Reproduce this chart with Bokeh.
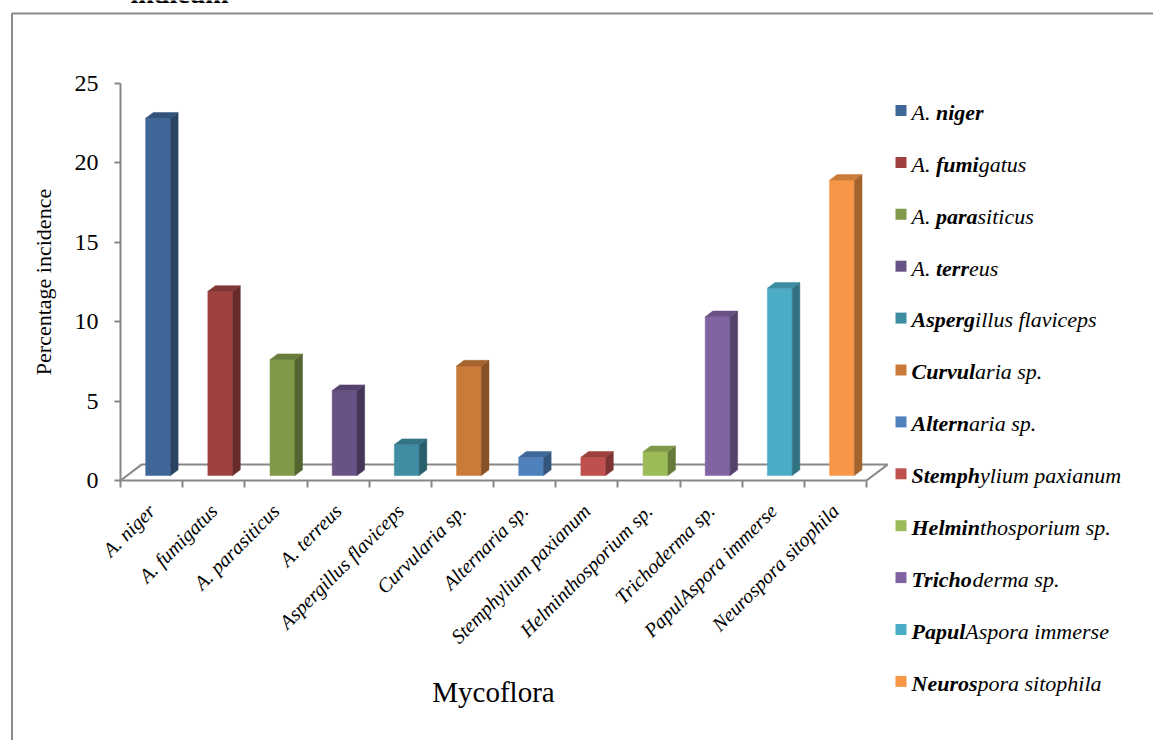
from math import pi
from bokeh.plotting import figure
from bokeh.models import Range1d, LinearAxis, FixedTicker, ColumnDataSource
from bokeh.core.properties import value
from bokeh.embed import file_html
from bokeh.resources import INLINE

# ---------------- data ----------------
categories = ["A. niger", "A. fumigatus", "A. parasiticus", "A. terreus",
              "Aspergillus flaviceps", "Curvularia sp.", "Alternaria sp.",
              "Stemphylium paxianum", "Helminthosporium sp.", "Trichoderma sp.",
              "PapulAspora immerse", "Neurospora sitophila"]
incidence = [22.5, 11.6, 7.3, 5.35, 1.95, 6.9, 1.15, 1.15, 1.5, 10.0, 11.8, 18.6]
y_ticks = [0, 5, 10, 15, 20, 25]
# bold span (start, end) of each legend entry
legend_bold = [(3, 8), (3, 7), (3, 7), (3, 7), (0, 6), (0, 6), (0, 6),
               (0, 6), (0, 6), (0, 6), (0, 5), (0, 6)]
front_colors = ["#3F6797", "#9D423F", "#7F9949", "#695285", "#3E8DA2", "#CA7B39",
                "#4F81BD", "#C0504D", "#9BBB59", "#8064A2", "#4BACC6", "#F79646"]

# ---------------- layout constants ----------------
W, H = 1153, 740
X0, Y0 = 120, 480          # pixel position of the data origin
SX, SY = 62.17, 15.88      # pixels per data unit
FONT = "Liberation Serif"
GREY = "#878787"
BASE_FIX = 0.37            # svg text baseline compensation (fraction of font size)


def dx(px):
    return (px - X0) / SX


def dy(py):
    return (Y0 - py) / SY


def shade(c, f):
    r, g, b = int(c[1:3], 16), int(c[3:5], 16), int(c[5:7], 16)
    return "#%02x%02x%02x" % (int(r * f), int(g * f), int(b * f))


p = figure(width=W, height=H, x_range=Range1d(dx(0), dx(W)),
           y_range=Range1d(dy(H), dy(0)), x_axis_type=None, y_axis_type=None,
           toolbar_location=None, output_backend="svg", min_border=0,
           outline_line_color=None)
p.background_fill_color = "white"
p.border_fill_color = "white"

# outer chart border
p.line(x=[dx(11.5), dx(11.5), dx(W + 20)], y=[dy(H + 20), dy(13), dy(13)],
       line_color="#8c8c8c", line_width=2)

# clipped title from the page above the chart
TFS = 28
p.text(x=[dx(130)], y=[dy(3.5 - BASE_FIX * TFS)], text=["indicum"], text_font=value(FONT),
       text_font_style="bold", text_font_size=f"{TFS}px", text_baseline="alphabetic",
       text_color="black")

# ---------------- 3D floor ----------------
n = len(categories)
FDX, FDY = 0.338, 1.0
p.line(x=[0, FDX, n + FDX, n], y=[0, FDY, FDY, 0], line_color=GREY, line_width=2)

# ---------------- 3D bars ----------------
BW = 0.4
OFF_X, OFF_Y = 0.105, 0.31
SDX, SDY = 0.122, 0.36
lefts = [i + (1 - BW) / 2 + OFF_X for i in range(n)]
rights = [l + BW for l in lefts]
bottoms = [OFF_Y] * n
tops = [OFF_Y + v for v in incidence]
side_colors = [shade(c, 0.66) for c in front_colors]
top_colors = [shade(c, 0.82) for c in front_colors]

src = ColumnDataSource(dict(left=lefts, right=rights, bottom=bottoms, top=tops,
                            color=front_colors))
p.quad(left="left", right="right", bottom="bottom", top="top", source=src,
       fill_color="color", line_color="color", line_width=0.5)
side_xs = [[r, r + SDX, r + SDX, r] for r in rights]
side_ys = [[b, b + SDY, t + SDY, t] for b, t in zip(bottoms, tops)]
p.patches(xs=side_xs, ys=side_ys, fill_color=side_colors, line_color=side_colors,
          line_width=0.5)
top_xs = [[l, r, r + SDX, l + SDX] for l, r in zip(lefts, rights)]
top_ys = [[t, t, t + SDY, t + SDY] for t in tops]
p.patches(xs=top_xs, ys=top_ys, fill_color=top_colors, line_color=top_colors,
          line_width=0.5)

# ---------------- axes ----------------
yax = LinearAxis(fixed_location=0, bounds=(0, 25), ticker=FixedTicker(ticks=y_ticks),
                 axis_label="Percentage incidence")
yax.axis_line_color = GREY
yax.axis_line_width = 2
yax.major_tick_line_color = GREY
yax.major_tick_line_width = 2
yax.major_tick_out = 6
yax.major_tick_in = 0
yax.minor_tick_line_color = None
yax.major_label_text_font = FONT
yax.major_label_text_font_size = "24px"
yax.major_label_text_color = "black"
yax.major_label_standoff = 16
yax.axis_label_text_font = FONT
yax.axis_label_text_font_size = "22px"
yax.axis_label_text_font_style = "normal"
yax.axis_label_text_color = "black"
yax.axis_label_standoff = 16
p.add_layout(yax, "left")

centers = [i + 0.5 for i in range(n)]
xax = LinearAxis(fixed_location=0, bounds=(0, n),
                 ticker=FixedTicker(ticks=centers, minor_ticks=list(range(n + 1))),
                 axis_label="Mycoflora")
xax.major_label_overrides = {c: name for c, name in zip(centers, categories)}
xax.major_label_orientation = pi / 4
xax.axis_line_color = GREY
xax.axis_line_width = 2
xax.major_tick_line_color = None
xax.major_tick_out = 0
xax.major_tick_in = 0
xax.minor_tick_line_color = GREY
xax.minor_tick_line_width = 2
xax.minor_tick_out = 7
xax.minor_tick_in = 0
xax.major_label_text_font = FONT
xax.major_label_text_font_size = "20px"
xax.major_label_text_font_style = "italic"
xax.major_label_text_color = "black"
xax.major_label_standoff = 20
xax.axis_label_text_font = FONT
xax.axis_label_text_font_size = "29px"
xax.axis_label_text_font_style = "normal"
xax.axis_label_text_color = "black"
xax.axis_label_standoff = 18
p.add_layout(xax, "below")

# ---------------- legend (mixed bold / regular italic) ----------------
REG_W = {"A": 611, ".": 250, " ": 250}
BOLD_W = {"A": 667, "C": 667, "H": 778, "N": 722, "P": 611, "S": 556, "T": 611,
          "a": 500, "c": 444, "e": 444, "f": 333, "g": 500, "h": 556, "i": 278,
          "l": 278, "m": 778, "n": 556, "o": 500, "p": 500, "r": 389, "s": 389,
          "t": 278, "u": 556, "v": 444}
LFS = 22
LEG_X, LEG_Y, LEG_STEP = 911, 110, 51.9

rows_y = [LEG_Y + LEG_STEP * i for i in range(n)]
p.rect(x=[dx(900.5)] * n, y=[dy(r) for r in rows_y], width=11, height=11,
       width_units="screen", height_units="screen", fill_color=front_colors,
       line_color=None)

pre_t, bold_t, rest_t, x1s, x2s, x3s, ys = [], [], [], [], [], [], []
for name, (a, b), ry in zip(categories, legend_bold, rows_y):
    pre, bold, rest = name[:a], name[a:b], name[b:]
    w1 = sum(REG_W[ch] for ch in pre) * LFS / 1000
    w2 = sum(BOLD_W[ch] for ch in bold) * LFS / 1000
    pre_t.append(pre)
    bold_t.append(bold)
    rest_t.append(rest)
    x1s.append(dx(LEG_X))
    x2s.append(dx(LEG_X + w1))
    x3s.append(dx(LEG_X + w1 + w2))
    ys.append(dy(ry + 10 - BASE_FIX * LFS))

for xs_, txt, style in ((x1s, pre_t, "italic"), (x2s, bold_t, "bold italic"),
                        (x3s, rest_t, "italic")):
    p.text(x=xs_, y=ys, text=txt, text_font=value(FONT), text_font_style=style,
           text_font_size=f"{LFS}px", text_baseline="alphabetic",
           text_align="left", text_color="black")

open("out.html", "w").write(file_html(p, INLINE))
